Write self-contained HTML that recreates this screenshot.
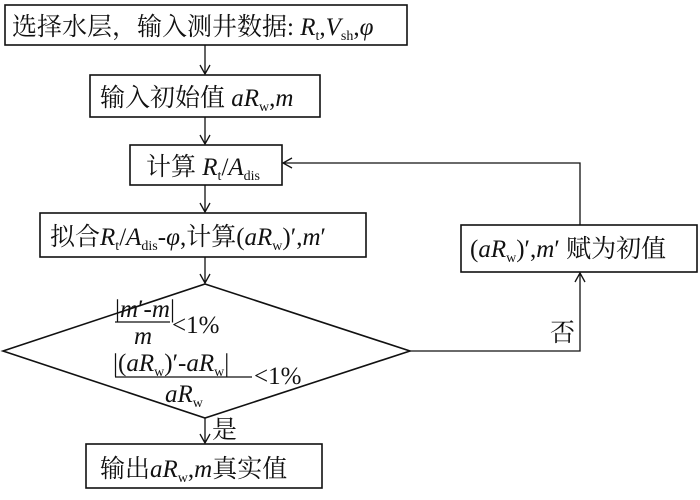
<!DOCTYPE html>
<html><head><meta charset="utf-8"><style>
body{margin:0;background:#fff}
svg{display:block}
text{font-family:"Liberation Serif","Noto Serif CJK SC","Noto Sans CJK SC",serif;font-size:25px;fill:#111}
.i{font-style:italic}
.s{font-size:14px}
</style></head><body>
<svg width="700" height="500" viewBox="0 0 700 500">
<defs><marker id="a" markerWidth="12" markerHeight="12" refX="10" refY="6" orient="auto" markerUnits="userSpaceOnUse"><path d="M1,1 L10,6 L1,11" fill="none" stroke="#111" stroke-width="1.3"/></marker></defs>
<g fill="none" stroke="#111" stroke-width="1.6">
<rect x="5" y="5" width="402" height="40"/>
<rect x="90" y="75" width="230" height="42"/>
<rect x="130" y="145" width="152" height="40"/>
<rect x="40" y="213" width="326" height="44"/>
<polygon points="205,284 410,351 205,418 3,351"/>
<rect x="461" y="225" width="236" height="47"/>
<rect x="86" y="444" width="236" height="44"/>
</g>
<g fill="none" stroke="#111" stroke-width="1.3">
<line x1="205" y1="45" x2="205" y2="74" marker-end="url(#a)"/>
<line x1="205" y1="117" x2="205" y2="144" marker-end="url(#a)"/>
<line x1="205" y1="185" x2="205" y2="212" marker-end="url(#a)"/>
<line x1="205" y1="257" x2="205" y2="283" marker-end="url(#a)"/>
<line x1="205" y1="418" x2="205" y2="443" marker-end="url(#a)"/>
<polyline points="410,351 580,351 580,273" marker-end="url(#a)"/>
<polyline points="580,225 580,163 283,163" marker-end="url(#a)"/>
</g>
<text x="12" y="35">选择水层，输入测井数据: <tspan class="i">R</tspan><tspan class="s" dy="5">t</tspan><tspan dy="-5">,</tspan><tspan class="i">V</tspan><tspan class="s" dy="5">sh</tspan><tspan dy="-5">,</tspan><tspan class="i">φ</tspan></text>
<text x="100" y="106">输入初始值 <tspan class="i">aR</tspan><tspan class="s" dy="5">w</tspan><tspan dy="-5">,</tspan><tspan class="i">m</tspan></text>
<text x="146" y="175">计算 <tspan class="i">R</tspan><tspan class="s" dy="5">t</tspan><tspan dy="-5">/</tspan><tspan class="i">A</tspan><tspan class="s" dy="5">dis</tspan></text>
<text x="50" y="245">拟合<tspan class="i">R</tspan><tspan class="s" dy="5">t</tspan><tspan dy="-5">/</tspan><tspan class="i">A</tspan><tspan class="s" dy="5">dis</tspan><tspan dy="-5">-</tspan><tspan class="i">φ</tspan>,计算(<tspan class="i">aR</tspan><tspan class="s" dy="5">w</tspan><tspan dy="-5">)′,</tspan><tspan class="i">m</tspan>′</text>
<text x="470" y="257">(<tspan class="i">aR</tspan><tspan class="s" dy="5">w</tspan><tspan dy="-5">)′,</tspan><tspan class="i">m</tspan>′ 赋为初值</text>
<text x="115" y="317">|<tspan class="i">m</tspan>′-<tspan class="i">m</tspan>|</text>
<line x1="115" y1="322" x2="170" y2="322" stroke="#111" stroke-width="1.2"/>
<text x="134" y="344" class="i">m</text>
<text x="172" y="333">&lt;1%</text>
<text x="113" y="371">|(<tspan class="i">aR</tspan><tspan class="s" dy="5">w</tspan><tspan dy="-5">)′-</tspan><tspan class="i">aR</tspan><tspan class="s" dy="5">w</tspan><tspan dy="-5">|</tspan></text>
<line x1="115" y1="377" x2="252" y2="377" stroke="#111" stroke-width="1.2"/>
<text x="165" y="402" class="i">aR<tspan class="s" dy="5" style="font-style:normal">w</tspan></text>
<text x="254" y="384">&lt;1%</text>
<text x="550" y="341">否</text>
<text x="212" y="438">是</text>
<text x="100" y="477">输出<tspan class="i">aR</tspan><tspan class="s" dy="5">w</tspan><tspan dy="-5">,</tspan><tspan class="i">m</tspan>真实值</text>
</svg>
</body></html>
